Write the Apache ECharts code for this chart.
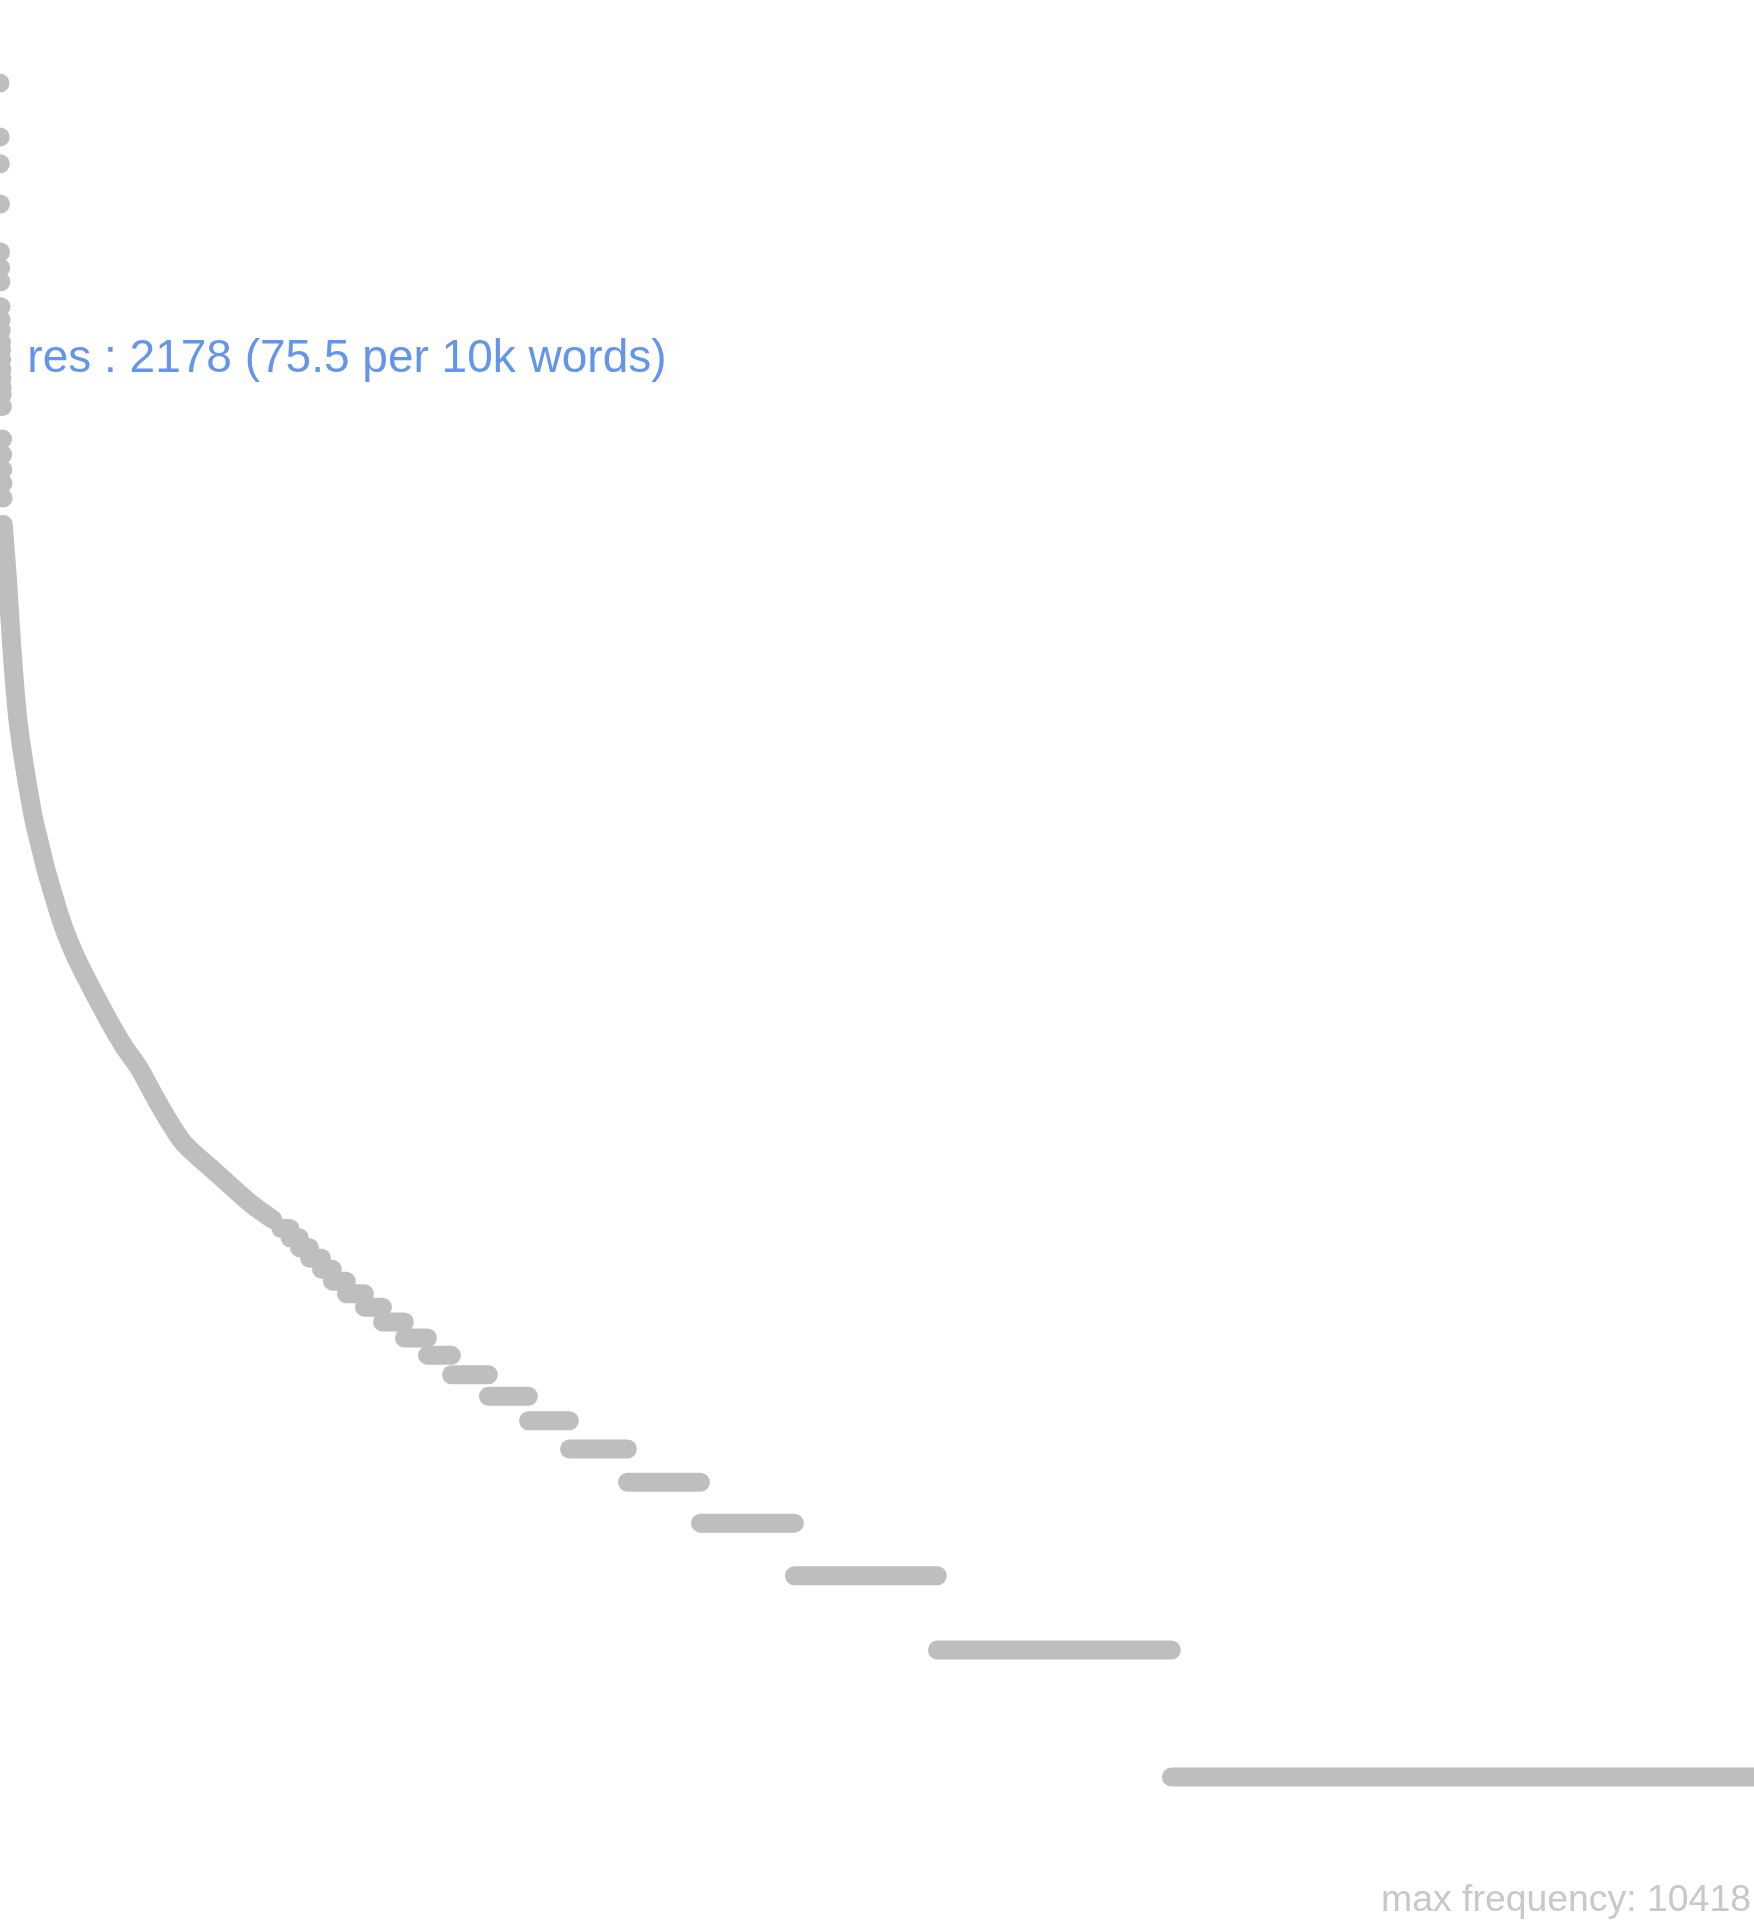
<!DOCTYPE html>
<html>
<head>
<meta charset="utf-8">
<title>word frequency by rank</title>
<script src="https://cdn.jsdelivr.net/npm/echarts@6/dist/echarts.min.js"></script>
<style>
  html, body { margin: 0; padding: 0; background: #fff; }
  #chart { width: 1754px; height: 1920px; }
</style>
</head>
<body>
<div id="chart"></div>
<script>
// number of distinct word forms (x runs from rank 1 to here)
const vocabSize = 12400;

// the most frequent words, drawn one dot each
const topRanks = [1, 2, 3, 4, 5, 6, 7, 8, 9, 10, 11, 12, 13, 14, 15, 16, 17, 18, 19, 20, 21, 22, 23];
const topFreqs = [10418, 7760, 6700, 5380, 4140, 3800, 3520, 3070, 2860, 2700, 2530, 2420, 2300, 2178, 2080, 1980, 1900, 1780, 1490, 1370, 1260, 1170, 1080];

// highlighted word
const markWord = 'res';
const markRank = 14;
const markFreq = 2178;
const markPer10k = 75.5;

// middle of the curve, read along its centre
const curveRanks = [24, 54, 72, 96, 128, 178, 241, 284, 326, 432, 500, 581, 772, 878, 984, 1132, 1295, 1535, 1768, 1930];
const curveFreqs = [935, 691, 555, 423, 321, 245, 186, 162, 142, 108, 94, 82, 62, 54, 48, 39, 32, 27, 23, 21];

// low frequencies: each frequency covers a run of ranks starting here
const stepFreqs = [1, 2, 3, 4, 5, 6, 7, 8, 9, 10, 11, 12, 13, 14, 15, 16, 17, 18, 19, 20];
const stepStarts = [8282, 6628, 5617, 4953, 4437, 4027, 3737, 3454, 3193, 3023, 2860, 2705, 2578, 2450, 2351, 2274, 2189, 2118, 2051, 1987];

const maxFrequency = topFreqs[0];
const lineColor = '#bebebe';
const dotSize = 19;

const chart = echarts.init(document.getElementById('chart'));

const topData = topRanks.map((r, i) => {
  const item = { value: [r, topFreqs[i]] };
  if (r === markRank) {
    item.label = {
      show: true,
      position: 'right',
      distance: 16,
      offset: [0, -10],
      formatter: markWord + ' : ' + markFreq + ' (' + markPer10k + ' per 10k words)',
      color: '#6495ED',
      fontSize: 46,
      fontFamily: 'Liberation Sans, Arial, sans-serif'
    };
  }
  return item;
});

const curveData = curveRanks.map((r, i) => [r, curveFreqs[i]]);

// [first rank, last rank, frequency]
const stepData = stepFreqs.map((f, i) => [
  stepStarts[i],
  i === 0 ? vocabSize : stepStarts[i - 1] - 1,
  f
]);

const option = {
  animation: false,
  backgroundColor: '#ffffff',
  grid: { left: 0, right: 0, top: 83, bottom: 143, containLabel: false },
  xAxis: {
    type: 'value',
    min: 1,
    max: vocabSize,
    show: false,
    splitLine: { show: false }
  },
  yAxis: {
    type: 'log',
    logBase: 10,
    min: 1,
    max: maxFrequency,
    show: false,
    splitLine: { show: false }
  },
  series: [
    {
      type: 'line',
      data: curveData,
      symbol: 'none',
      clip: false,
      smooth: 0.25,
      lineStyle: { color: lineColor, width: dotSize, cap: 'round', join: 'round' }
    },
    {
      type: 'custom',
      data: stepData,
      encode: { x: [0, 1], y: 2 },
      renderItem: function (params, api) {
        const a = api.coord([api.value(0), api.value(2)]);
        const b = api.coord([api.value(1), api.value(2)]);
        return {
          type: 'line',
          shape: { x1: a[0], y1: a[1], x2: b[0], y2: b[1] },
          style: { stroke: lineColor, lineWidth: dotSize, lineCap: 'round' }
        };
      }
    },
    {
      type: 'scatter',
      data: topData,
      symbol: 'circle',
      symbolSize: dotSize,
      itemStyle: { color: lineColor, opacity: 1 },
      label: { show: false }
    }
  ],
  graphic: [
    {
      type: 'text',
      right: 3,
      top: 1882,
      style: {
        text: 'max frequency: ' + maxFrequency,
        fill: '#c8c8c8',
        fontSize: 37.4,
        fontFamily: 'Liberation Sans, Arial, sans-serif'
      }
    }
  ]
};

chart.setOption(option);
</script>
</body>
</html>
